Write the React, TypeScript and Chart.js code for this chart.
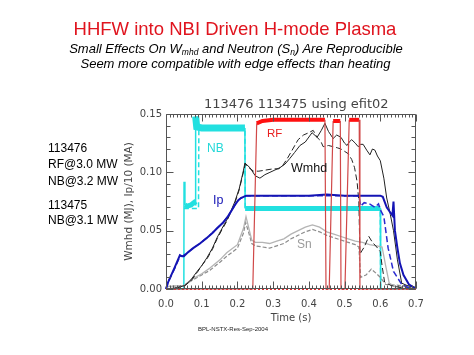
import React, { useEffect, useRef } from "react";
import { Chart, registerables } from "chart.js";
Chart.register(...registerables);

// ---------- data (time in s, values in MJ or MA/10) ----------
const nb476T = [0, 0.05, 0.0505, 0.053, 0.06, 0.07, 0.078, 0.082, 0.083, 0.086, 0.1, 0.15, 0.2, 0.221, 0.2215, 0.3, 0.4, 0.5, 0.6, 0.601, 0.7];
const nb476V = [0, 0, 0.092, 0.072, 0.071, 0.072, 0.074, 0.072, 0.148, 0.139, 0.138, 0.138, 0.138, 0.138, 0.069, 0.069, 0.069, 0.069, 0.069, 0, 0];

const nb475T = [0.05, 0.091, 0.092, 0.221, 0.222, 0.6, 0.601, 0.7];
const nb475V = [0.069, 0.069, 0.138, 0.138, 0.069, 0.069, 0, 0];

const rf476T = [0, 0.243, 0.254, 0.27, 0.3, 0.35, 0.4, 0.445, 0.448, 0.457, 0.468, 0.488, 0.49, 0.501, 0.513, 0.541, 0.543, 0.7];
const rf476V = [0, 0, 0.142, 0.144, 0.145, 0.145, 0.145, 0.145, 0, 0, 0.144, 0.144, 0, 0, 0.145, 0.145, 0, 0];

const rf475T = [0, 0.7];
const rf475V = [0, 0];

const wmhd476T = [0, 0.03, 0.053, 0.07, 0.087, 0.1, 0.115, 0.13, 0.143, 0.157, 0.17, 0.182, 0.193, 0.205, 0.215, 0.221, 0.235, 0.25, 0.263, 0.277, 0.291, 0.305, 0.319, 0.333, 0.347, 0.36, 0.375, 0.39, 0.409, 0.423, 0.435, 0.445, 0.455, 0.468, 0.478, 0.49, 0.5, 0.507, 0.513, 0.52, 0.53, 0.538, 0.545, 0.552, 0.562, 0.571, 0.578, 0.585, 0.592, 0.6, 0.61, 0.618, 0.628, 0.637, 0.648, 0.66, 0.675, 0.69, 0.7];
const wmhd476V = [0, 0.001, 0.003, 0.008, 0.015, 0.02, 0.027, 0.035, 0.044, 0.052, 0.059, 0.067, 0.075, 0.086, 0.099, 0.108, 0.104, 0.097, 0.095, 0.098, 0.1, 0.102, 0.104, 0.107, 0.112, 0.117, 0.123, 0.126, 0.134, 0.13, 0.136, 0.142, 0.135, 0.129, 0.132, 0.13, 0.125, 0.123, 0.126, 0.128, 0.125, 0.122, 0.124, 0.124, 0.119, 0.115, 0.12, 0.119, 0.114, 0.11, 0.095, 0.078, 0.064, 0.05, 0.025, 0.005, 0.003, 0.002, 0.001];

const wmhd475T = [0, 0.03, 0.053, 0.07, 0.087, 0.1, 0.115, 0.13, 0.143, 0.157, 0.17, 0.182, 0.193, 0.205, 0.215, 0.222, 0.232, 0.245, 0.26, 0.28, 0.3, 0.315, 0.325, 0.34, 0.355, 0.37, 0.385, 0.4, 0.412, 0.423, 0.433, 0.44, 0.455, 0.468, 0.48, 0.49, 0.5, 0.51, 0.52, 0.528, 0.535, 0.54, 0.543, 0.555, 0.568, 0.578, 0.59, 0.6, 0.605, 0.612, 0.63, 0.66, 0.7];
const wmhd475V = [0, 0.001, 0.003, 0.007, 0.014, 0.02, 0.026, 0.034, 0.043, 0.051, 0.058, 0.066, 0.074, 0.085, 0.098, 0.107, 0.104, 0.101, 0.101, 0.102, 0.103, 0.103, 0.105, 0.112, 0.12, 0.128, 0.132, 0.134, 0.136, 0.13, 0.127, 0.122, 0.123, 0.122, 0.121, 0.12, 0.118, 0.116, 0.111, 0.104, 0.092, 0.075, 0.03, 0.036, 0.045, 0.04, 0.036, 0.032, 0.02, 0.006, 0.003, 0.001, 0.001];

const ip476T = [0, 0.006, 0.025, 0.039, 0.045, 0.05, 0.06, 0.076, 0.095, 0.115, 0.13, 0.143, 0.16, 0.175, 0.185, 0.195, 0.202, 0.21, 0.217, 0.225, 0.3, 0.4, 0.45, 0.5, 0.6, 0.607, 0.618, 0.627, 0.634, 0.637, 0.641, 0.648, 0.655, 0.665, 0.68, 0.7];
const ip476V = [0, 0.006, 0.019, 0.029, 0.028, 0.028, 0.031, 0.035, 0.039, 0.044, 0.048, 0.052, 0.057, 0.063, 0.068, 0.073, 0.076, 0.078, 0.079, 0.08, 0.08, 0.08, 0.081, 0.08, 0.08, 0.079, 0.07, 0.066, 0.063, 0.075, 0.05, 0.035, 0.022, 0.012, 0.004, 0];

const ip475T = [0, 0.006, 0.025, 0.039, 0.045, 0.05, 0.06, 0.076, 0.095, 0.115, 0.13, 0.143, 0.16, 0.175, 0.185, 0.195, 0.202, 0.21, 0.217, 0.225, 0.3, 0.4, 0.5, 0.54, 0.545, 0.555, 0.57, 0.585, 0.595, 0.6, 0.61, 0.622, 0.637, 0.66, 0.68, 0.7];
const ip475V = [0, 0.006, 0.018, 0.028, 0.028, 0.029, 0.031, 0.035, 0.039, 0.044, 0.048, 0.052, 0.057, 0.063, 0.068, 0.073, 0.076, 0.078, 0.079, 0.08, 0.08, 0.08, 0.08, 0.08, 0.071, 0.074, 0.073, 0.07, 0.073, 0.068, 0.062, 0.035, 0.015, 0.004, 0.001, 0];

const sn476T = [0, 0.05, 0.076, 0.1, 0.123, 0.151, 0.17, 0.2, 0.217, 0.224, 0.232, 0.24, 0.25, 0.27, 0.29, 0.31, 0.33, 0.35, 0.37, 0.39, 0.41, 0.43, 0.45, 0.47, 0.49, 0.51, 0.53, 0.55, 0.57, 0.59, 0.605, 0.615, 0.625, 0.64, 0.7];
const sn476V = [0.002, 0.003, 0.009, 0.013, 0.018, 0.025, 0.031, 0.038, 0.052, 0.062, 0.052, 0.042, 0.04, 0.04, 0.039, 0.041, 0.043, 0.047, 0.05, 0.053, 0.055, 0.053, 0.049, 0.047, 0.045, 0.043, 0.041, 0.04, 0.038, 0.037, 0.036, 0.02, 0.005, 0.002, 0.002];

const sn475T = [0, 0.05, 0.076, 0.1, 0.123, 0.151, 0.17, 0.2, 0.217, 0.223, 0.232, 0.24, 0.25, 0.27, 0.29, 0.31, 0.33, 0.35, 0.37, 0.39, 0.41, 0.43, 0.45, 0.47, 0.49, 0.51, 0.53, 0.54, 0.545, 0.56, 0.575, 0.59, 0.6, 0.615, 0.7];
const sn475V = [0.002, 0.003, 0.008, 0.012, 0.016, 0.023, 0.028, 0.035, 0.048, 0.057, 0.048, 0.039, 0.037, 0.036, 0.035, 0.037, 0.039, 0.043, 0.046, 0.049, 0.051, 0.049, 0.046, 0.044, 0.042, 0.04, 0.038, 0.036, 0.01, 0.012, 0.017, 0.013, 0.01, 0.004, 0.002];

const xTickLabels = ["0.0", "0.1", "0.2", "0.3", "0.4", "0.5", "0.6", "0.7"];
const yTickLabels = ["0.00", "0.05", "0.10", "0.15"];

const pts = (t: number[], v: number[]) => t.map((x, i) => ({ x, y: v[i] }));

const framePlugin = {
  id: "idlFrame",
  afterDatasetsDraw(chart: any) {
    const { ctx, chartArea: a, scales } = chart;
    const x = scales.x;
    const y = scales.y;
    const L = Math.round(a.left) + 0.5;
    const R = Math.round(a.right) - 0.5;
    const T = Math.round(a.top) + 0.5;
    const B = Math.round(a.bottom) - 0.5;
    ctx.save();
    ctx.strokeStyle = "#555";
    ctx.lineWidth = 1;
    ctx.beginPath();
    ctx.rect(L, T, R - L, B - T);
    for (let i = 0; i <= 15; i++) {
      const py = Math.round(y.getPixelForValue(i * 0.01)) + 0.5;
      const len = i % 5 === 0 ? 7 : 4;
      ctx.moveTo(L, py);
      ctx.lineTo(L + len, py);
      ctx.moveTo(R, py);
      ctx.lineTo(R - len, py);
    }
    for (let i = 0; i <= 70; i++) {
      const px = Math.round(x.getPixelForValue(i * 0.01)) + 0.5;
      const len = i % 10 === 0 ? 7 : 3;
      ctx.moveTo(px, T);
      ctx.lineTo(px, T + len);
      ctx.moveTo(px, B);
      ctx.lineTo(px, B - len);
    }
    ctx.stroke();
    ctx.restore();
  },
};

const flat = (ctx: any) => Math.abs(ctx.p0.parsed.y - ctx.p1.parsed.y) < 0.012;

function ChartCanvas() {
  const ref = useRef<HTMLCanvasElement | null>(null);
  useEffect(() => {
    if (!ref.current) return;
    const tickFont = { family: "DejaVu Sans", size: 10 };
    const chart = new Chart(ref.current, {
      type: "line",
      data: {
        datasets: [
          {
            label: "RF 113476",
            data: pts(rf476T, rf476V),
            borderColor: "#ff1010",
            borderWidth: 1,
            segment: {
              borderWidth: (c: any) => (flat(c) && c.p0.parsed.y > 0.1 ? 4 : 1.2),
              borderColor: (c: any) => (flat(c) && c.p0.parsed.y > 0.1 ? "#ff1010" : "#d04848"),
            },
          },
          {
            label: "RF 113475",
            data: pts(rf475T, rf475V),
            borderColor: "#e03030",
            borderWidth: 2,
            borderDash: [2, 2],
          },
          {
            label: "Ip 113476",
            data: pts(ip476T, ip476V),
            borderColor: "#1414b4",
            borderWidth: 2,
          },
          {
            label: "Ip 113475",
            data: pts(ip475T, ip475V),
            borderColor: "#2a2ad0",
            borderWidth: 1.5,
            borderDash: [6, 3],
          },
          {
            label: "Wmhd 113476",
            data: pts(wmhd476T, wmhd476V),
            borderColor: "#222",
            borderWidth: 1,
          },
          {
            label: "Wmhd 113475",
            data: pts(wmhd475T, wmhd475V),
            borderColor: "#222",
            borderWidth: 1,
            borderDash: [6, 3],
          },
          {
            label: "Sn 113476",
            data: pts(sn476T, sn476V),
            borderColor: "#b4b4b4",
            borderWidth: 1.3,
          },
          {
            label: "Sn 113475",
            data: pts(sn475T, sn475V),
            borderColor: "#8c8c8c",
            borderWidth: 1.2,
            borderDash: [4, 2],
          },
          {
            label: "NB 113476",
            data: pts(nb476T, nb476V),
            borderColor: "#22e0e0",
            borderWidth: 1.5,
            segment: {
              borderWidth: (c: any) => (flat(c) && c.p0.parsed.y > 0 ? (c.p0.parsed.y > 0.1 ? 7 : 5) : 1.5),
            },
          },
          {
            label: "NB 113475",
            data: pts(nb475T, nb475V),
            borderColor: "#22e0e0",
            borderWidth: 1.5,
            borderDash: [5, 3],
          },
        ].map((d: any) => ({ ...d, pointRadius: 0, tension: 0, fill: false, clip: 4 })),
      },
      options: {
        responsive: false,
        animation: false,
        events: [],
        layout: { padding: { left: 110, top: 114, right: 58, bottom: 0 } },
        plugins: { legend: { display: false }, tooltip: { enabled: false }, title: { display: false } },
        scales: {
          x: {
            type: "linear",
            min: 0,
            max: 0.7,
            afterFit: (s: any) => {
              s.height = 66;
            },
            grid: { display: false, drawTicks: false },
            border: { display: false },
            ticks: {
              stepSize: 0.1,
              padding: 9,
              color: "#444",
              font: tickFont,
              maxRotation: 0,
              callback: (v: any) => xTickLabels[Math.round(Number(v) * 10)] ?? "",
            },
            title: {
              display: true,
              text: "Time (s)",
              color: "#444",
              font: tickFont,
              padding: { top: 0, bottom: 31 },
            },
          },
          y: {
            type: "linear",
            min: 0,
            max: 0.15,
            afterFit: (s: any) => {
              s.width = 56;
            },
            grid: { display: false, drawTicks: false },
            border: { display: false },
            ticks: {
              stepSize: 0.05,
              padding: 4,
              color: "#444",
              font: tickFont,
              callback: (v: any) => yTickLabels[Math.round(Number(v) * 20)] ?? "",
            },
            title: {
              display: true,
              text: "Wmhd (MJ), Ip/10 (MA)",
              color: "#444",
              font: { family: "DejaVu Sans", size: 10.5 },
              padding: { top: 13, bottom: 0 },
            },
          },
        },
      },
      plugins: [framePlugin],
    } as any);
    return () => chart.destroy();
  }, []);
  return (
    <canvas
      ref={ref}
      width={474}
      height={355}
      style={{ position: "absolute", left: 0, top: 0, width: 474, height: 355 }}
    />
  );
}

const abs = (left: number, top: number, extra: React.CSSProperties = {}): React.CSSProperties => ({
  position: "absolute",
  left,
  top,
  whiteSpace: "nowrap",
  lineHeight: 1,
  fontFamily: "'Liberation Sans', Arial, sans-serif",
  ...extra,
});

export default function App() {
  return (
    <div
      style={{
        position: "absolute",
        left: 0,
        top: 0,
        width: 474,
        height: 355,
        background: "#fff",
        overflow: "hidden",
      }}
    >
      <ChartCanvas />
      <div style={abs(0, 20.3, { width: 470, textAlign: "center", fontSize: 18.5, color: "#e0141e" })}>
        HHFW into NBI Driven H-mode Plasma
      </div>
      <div style={abs(0, 42, { width: 472, textAlign: "center", fontSize: 13, fontStyle: "italic", color: "#000" })}>
        Small Effects On W<sub style={{ fontSize: 8.5, verticalAlign: "-2px" }}>mhd</sub> and Neutron (S
        <sub style={{ fontSize: 8.5, verticalAlign: "-2px" }}>n</sub>) Are Reproducible
      </div>
      <div style={abs(0, 57, { width: 471, textAlign: "center", fontSize: 13, fontStyle: "italic", color: "#000" })}>
        Seem more compatible with edge effects than heating
      </div>

      <div style={abs(48, 141.8, { fontSize: 12 })}>113476</div>
      <div style={abs(48, 157.8, { fontSize: 12 })}>RF@3.0 MW</div>
      <div style={abs(48, 174.8, { fontSize: 12 })}>NB@3.2 MW</div>
      <div style={abs(48, 198.8, { fontSize: 12 })}>113475</div>
      <div style={abs(48, 213.8, { fontSize: 12 })}>NB@3.1 MW</div>

      <div style={abs(204, 97, { fontSize: 13, fontFamily: "'DejaVu Sans', sans-serif", color: "#444" })}>
        113476 113475 using efit02
      </div>

      <div style={abs(207, 141.8, { fontSize: 12, color: "#22d8d8" })}>NB</div>
      <div style={abs(267, 128.3, { fontSize: 11.5, color: "#e82020" })}>RF</div>
      <div style={abs(291, 162.4, { fontSize: 12.5, color: "#111" })}>Wmhd</div>
      <div style={abs(213, 194.4, { fontSize: 12.5, color: "#1414b4" })}>Ip</div>
      <div style={abs(297, 237.8, { fontSize: 12, color: "#9a9a9a" })}>Sn</div>

      <div style={abs(198, 326, { fontSize: 6, color: "#222" })}>BPL-NSTX-Res-Sep-2004</div>
    </div>
  );
}
